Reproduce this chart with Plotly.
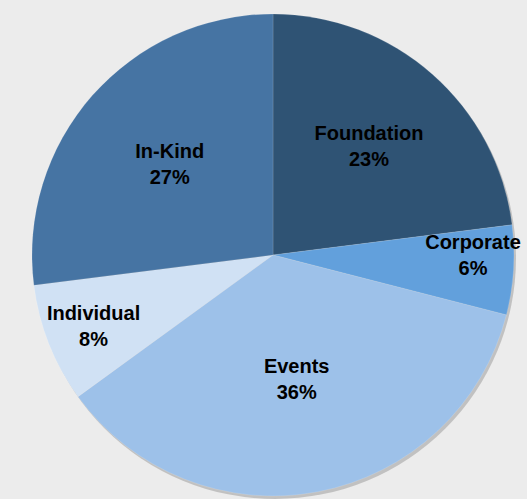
import plotly.graph_objects as go

labels = ["Foundation", "Corporate", "Events", "Individual", "In-Kind"]
values = [23, 6, 36, 8, 27]
colors = ["#2f5374", "#62a0dc", "#9dc1e9", "#d0e1f4", "#4674a3"]

W, H = 527, 499
cx, cy, r = 273, 255, 241

dom_x = [(cx - r) / W, (cx + r) / W]
dom_y = [(H - cy - r) / H, (H - cy + r) / H]
off = 3 / H

fig = go.Figure()
# soft shadow
fig.add_trace(go.Pie(
    values=[1], marker=dict(colors=["rgba(0,0,0,0.18)"], line=dict(width=0)),
    domain=dict(x=[dom_x[0] + 2 / W, dom_x[1] + 2 / W], y=[max(0, dom_y[0] - off), dom_y[1] - off]),
    textinfo="none", hoverinfo="skip", showlegend=False, sort=False,
))
fig.add_trace(go.Pie(
    labels=labels, values=values, sort=False, direction="clockwise", rotation=0,
    marker=dict(colors=colors, line=dict(color="rgba(255,255,255,0.25)", width=0.5)),
    texttemplate="<b>%{label}</b><br><b>%{percent:.0%}</b>",
    textposition="inside", insidetextorientation="horizontal",
    textfont=dict(family="Liberation Sans, Arial, sans-serif", size=20, color="black"),
    domain=dict(x=dom_x, y=dom_y), showlegend=False,
))
fig.update_layout(
    width=W, height=H, margin=dict(l=0, r=0, t=0, b=0),
    paper_bgcolor="#ececec", plot_bgcolor="#ececec",
    uniformtext=dict(minsize=20, mode="show"),
)
fig.write_html(
    "out.html",
    config={"displayModeBar": False},
    post_script="document.body.style.margin='0';document.body.style.background='#ececec';",
)
